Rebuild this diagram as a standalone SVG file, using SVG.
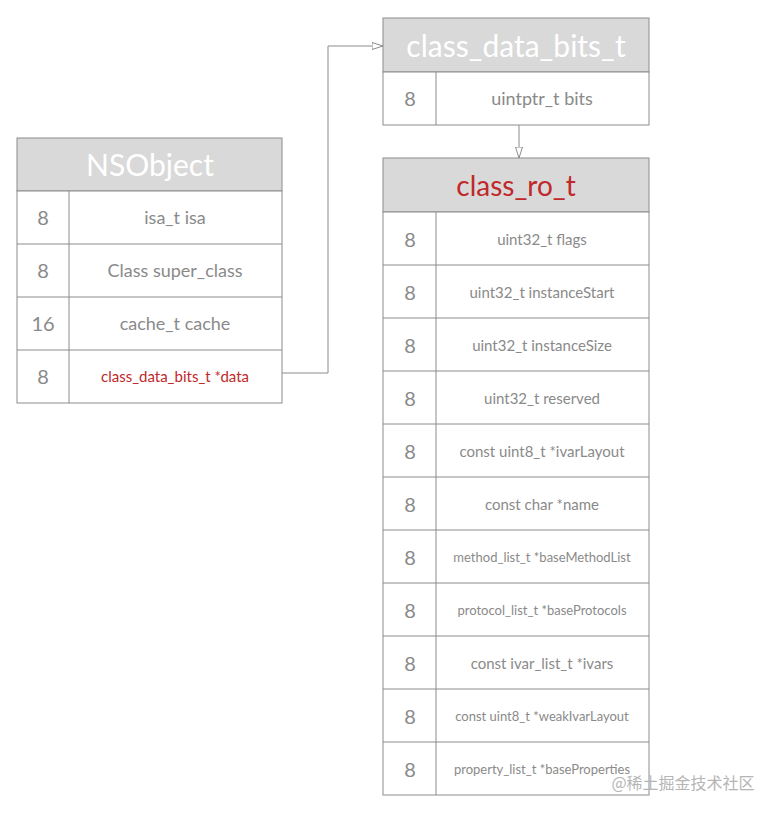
<svg xmlns="http://www.w3.org/2000/svg" width="778" height="813" viewBox="0 0 778 813">
<style>
.box{fill:#fff;stroke:#8c8c8c;stroke-width:1}
.hd{fill:#d9d9d9;stroke:#8c8c8c;stroke-width:1}
text{font-family:"Lato","Open Sans",sans-serif;fill:#8a8a8a;text-anchor:middle;dominant-baseline:central}
.n{font-size:20px}
.t{font-size:18px}
.s{font-size:15px}
.xs{font-size:13px}
.ht{font-size:30px;fill:#fff}
.red{fill:#c0282a}
.ln{stroke:#8c8c8c;fill:none;stroke-width:1}
</style>
<defs><marker id="a" markerWidth="12" markerHeight="8" refX="11" refY="4" orient="auto" markerUnits="userSpaceOnUse"><path d="M0,0.5 L11,4 L0,7.5 Z" fill="#fff" stroke="#8c8c8c"/></marker></defs>
<rect width="778" height="813" fill="#fff"/>
<g id="nsobject">
<rect class="hd" x="17" y="138" width="265" height="53"/>
<text class="ht" x="150" y="164">NSObject</text>
<rect class="box" x="17" y="191" width="265" height="212"/>
<path class="ln" d="M17,244H282M17,297H282M17,350H282M69,191V403"/>
<text class="n" x="43" y="217">8</text><text class="t" x="175" y="217">isa_t isa</text>
<text class="n" x="43" y="270">8</text><text class="t" x="175" y="270">Class super_class</text>
<text class="n" x="43" y="323">16</text><text class="t" x="175" y="323">cache_t cache</text>
<text class="n" x="43" y="376">8</text><text class="s red" x="175" y="376">class_data_bits_t *data</text>
</g>
<g id="class_data_bits_t">
<rect class="hd" x="383" y="18" width="266" height="54"/>
<text class="ht" x="516" y="45">class_data_bits_t</text>
<rect class="box" x="383" y="72" width="266" height="53"/>
<path class="ln" d="M436,72V125"/>
<text class="n" x="410" y="98">8</text><text class="t" x="542" y="98">uintptr_t bits</text>
</g>
<g id="class_ro_t">
<rect class="hd" x="383" y="158" width="266" height="54"/>
<text class="ht red" x="516" y="185" style="font-size:28px">class_ro_t</text>
<rect class="box" x="383" y="212" width="266" height="583"/>
<path class="ln" d="M383,265H649M383,318H649M383,371H649M383,424H649M383,477H649M383,530H649M383,583H649M383,636H649M383,689H649M383,742H649M436,212V795"/>
<g class="n">
<text x="410" y="239">8</text><text x="410" y="292">8</text><text x="410" y="345">8</text><text x="410" y="398">8</text><text x="410" y="451">8</text><text x="410" y="504">8</text><text x="410" y="557">8</text><text x="410" y="610">8</text><text x="410" y="663">8</text><text x="410" y="716">8</text><text x="410" y="769">8</text>
</g>
<text class="s" x="542" y="239">uint32_t flags</text>
<text class="s" x="542" y="292">uint32_t instanceStart</text>
<text class="s" x="542" y="345">uint32_t instanceSize</text>
<text class="s" x="542" y="398">uint32_t reserved</text>
<text class="s" x="542" y="451">const uint8_t *ivarLayout</text>
<text class="s" x="542" y="504">const char *name</text>
<text class="xs" x="542" y="557">method_list_t *baseMethodList</text>
<text class="xs" x="542" y="610">protocol_list_t *baseProtocols</text>
<text class="s" x="542" y="663">const ivar_list_t *ivars</text>
<text class="xs" x="542" y="716">const uint8_t *weakIvarLayout</text>
<text class="xs" x="542" y="769">property_list_t *baseProperties</text>
</g>
<g id="connectors">
<path class="ln" d="M282,373H328V46H383" marker-end="url(#a)"/>
<path class="ln" d="M519,125V158" marker-end="url(#a)"/>
</g>
<text x="683" y="782" style="font-family:'Noto Sans CJK SC',sans-serif;font-size:16px;fill:#b5b5b5">@稀土掘金技术社区</text>
</svg>
